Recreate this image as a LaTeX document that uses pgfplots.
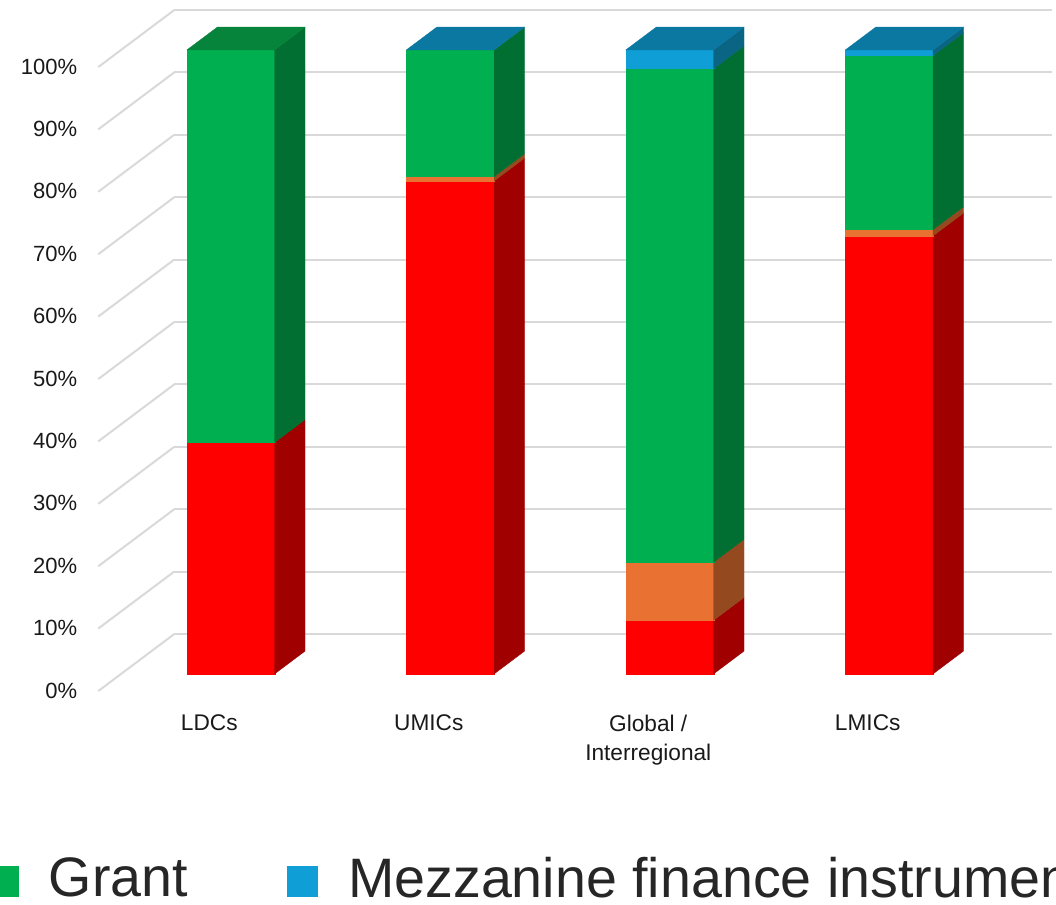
\documentclass[border=0pt]{standalone}
\usepackage{fontspec}
\setmainfont{Liberation Sans}
\usepackage{pgfplots}
\pgfplotsset{compat=1.18}
\definecolor{grantF}{HTML}{00B050}
\definecolor{grantS}{HTML}{006F31}
\definecolor{grantT}{HTML}{07843B}
\definecolor{redF}{HTML}{FF0000}
\definecolor{redS}{HTML}{A00000}
\definecolor{orangeF}{HTML}{E97132}
\definecolor{orangeS}{HTML}{94491F}
\definecolor{blueF}{HTML}{0F9ED5}
\definecolor{blueS}{HTML}{0A6585}
\definecolor{blueT}{HTML}{0B78A1}
\definecolor{gridc}{HTML}{D9D9D9}
% #1,#2 left/right x of the bar; #3,#4 bottom/top value; #5 front colour; #6 side colour
\newcommand{\seg}[6]{%
  \addplot3[fill=#5,draw=#5,line width=0.2pt] coordinates {(#1,0.3,#3) (#2,0.3,#3) (#2,0.3,#4) (#1,0.3,#4)} -- cycle;
  \addplot3[fill=#6,draw=#6,line width=0.2pt] coordinates {(#2,0.3,#3) (#2,0.7,#3) (#2,0.7,#4) (#2,0.3,#4)} -- cycle;
}
% top face
\newcommand{\topface}[3]{%
  \addplot3[fill=#3,draw=#3,line width=0.2pt] coordinates {(#1,0.3,100) (#2,0.3,100) (#2,0.7,100) (#1,0.7,100)} -- cycle;
}
\begin{document}
\begin{tikzpicture}[x=1pt,y=1pt]
\path[use as bounding box,clip] (0,0) rectangle (792,678);
\begin{axis}[
  at={(156pt,159.75pt)},anchor=origin,
  x={(164.6pt,0pt)},y={(57pt,42.75pt)},z={(0pt,4.68pt)},
  xmin=-0.5,xmax=3.5,ymin=0,ymax=1,zmin=0,zmax=100,
  axis line style={draw=none},
  tick style={draw=none},
  no markers,
  ytick=\empty,
  xtick={0,1,2,3},
  xticklabels={LDCs,UMICs,{Global /\\Interregional},LMICs},
  ztick={0,10,20,30,40,50,60,70,80,90,100},
  zticklabels={0\%,10\%,20\%,30\%,40\%,50\%,60\%,70\%,80\%,90\%,100\%},
  zmajorgrids=true,
  major grid style={gridc,line width=1.5pt},
  x tick label style={font=\fontsize{17}{21.5}\selectfont,align=center,anchor=north,xshift=1pt,yshift=-14.5pt,color=black!90},
  z tick label style={font=\fontsize{16.5}{21}\selectfont,color=black!90,anchor=east,xshift=-12.3pt,yshift=0.3pt},
  legend style={at={(rel axis cs:0,0,0)},anchor=north west,draw=none,fill=none,
    font=\fontsize{41.7}{46}\selectfont,text=black!85,legend columns=2,xshift=-86pt,yshift=-120.25pt,
    /tikz/every even column/.append style={column sep=72.5pt},
    /tikz/every odd column/.append style={column sep=20.5pt}},
  legend image code/.code={\fill[#1] (0pt,-13.85pt) rectangle (23.25pt,9.4pt);},
]
\addlegendimage{fill=grantF,draw=none}\addlegendentry{Grant}
\addlegendimage{fill=blueF,draw=none}\addlegendentry{Mezzanine finance instrument}
% LDCs
\seg{-0.2}{0.2}{0}{37.1}{redF}{redS}
\seg{-0.2}{0.2}{37.1}{100}{grantF}{grantS}
\topface{-0.2}{0.2}{grantT}
% UMICs
\seg{0.8}{1.2}{0}{79}{redF}{redS}
\seg{0.8}{1.2}{79}{79.7}{orangeF}{orangeS}
\seg{0.8}{1.2}{79.7}{100}{grantF}{grantS}
\topface{0.8}{1.2}{blueT}
% Global / Interregional
\seg{1.8}{2.2}{0}{8.6}{redF}{redS}
\seg{1.8}{2.2}{8.6}{17.9}{orangeF}{orangeS}
\seg{1.8}{2.2}{17.9}{97}{grantF}{grantS}
\seg{1.8}{2.2}{97}{100}{blueF}{blueS}
\topface{1.8}{2.2}{blueT}
% LMICs
\seg{2.8}{3.2}{0}{70.2}{redF}{redS}
\seg{2.8}{3.2}{70.2}{71.2}{orangeF}{orangeS}
\seg{2.8}{3.2}{71.2}{99.1}{grantF}{grantS}
\seg{2.8}{3.2}{99.1}{100}{blueF}{blueS}
\topface{2.8}{3.2}{blueT}
\end{axis}
\end{tikzpicture}
\end{document}
